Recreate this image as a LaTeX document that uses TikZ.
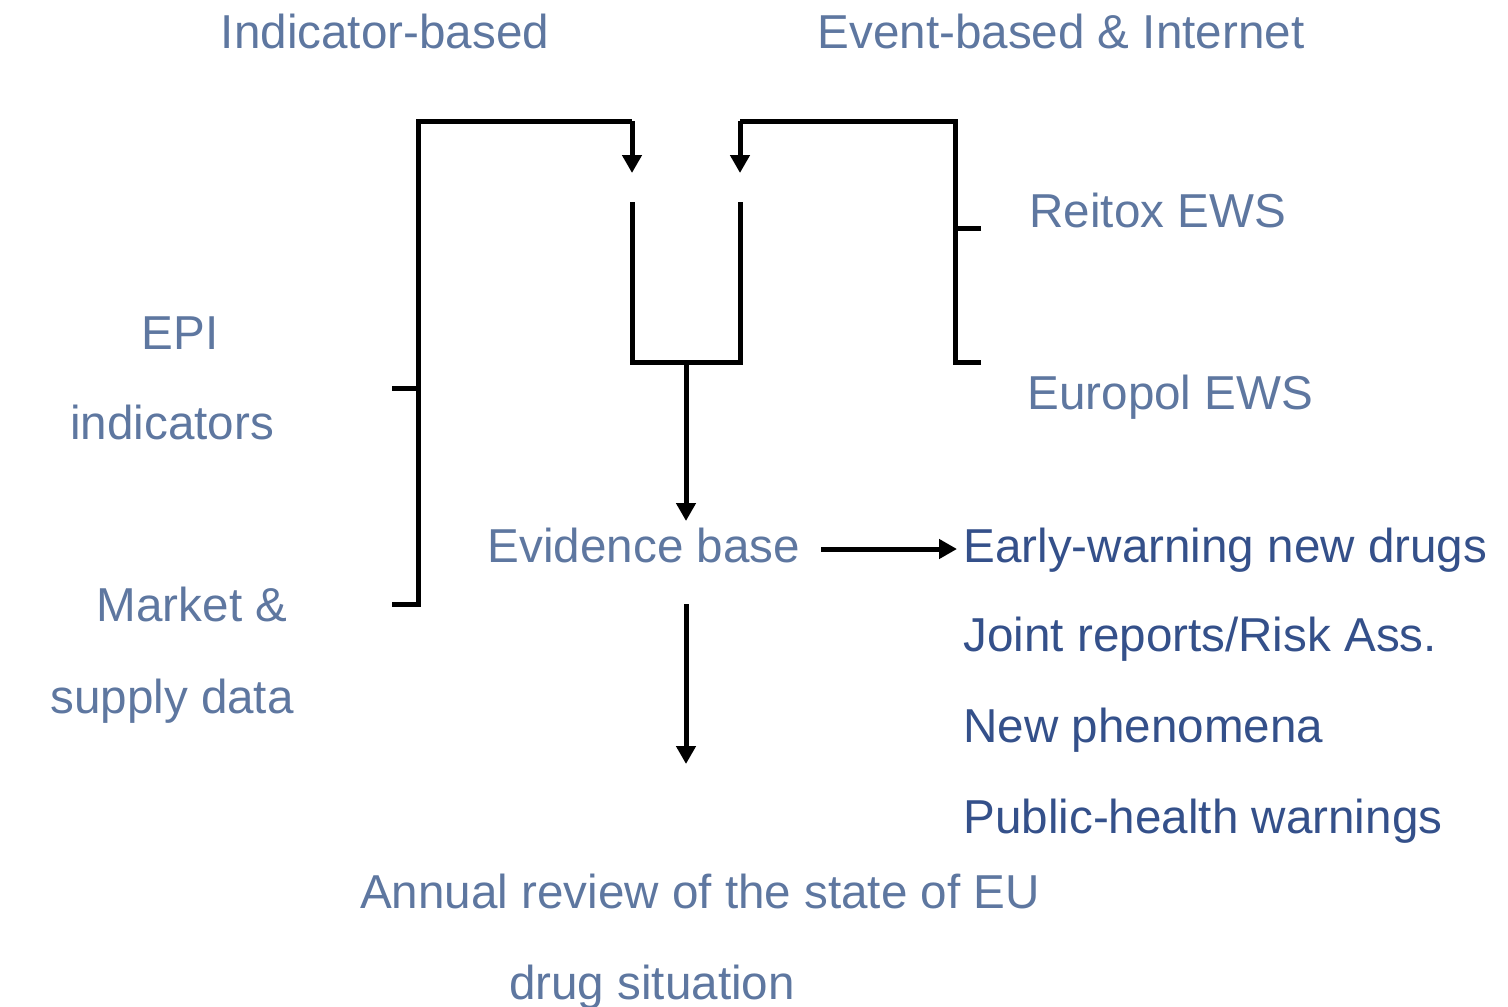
\documentclass[tikz,border=0pt]{standalone}
\usepackage{fontspec}
\setmainfont{Liberation Sans}
\usetikzlibrary{arrows.meta}
\definecolor{lblue}{HTML}{5E77A0}
\definecolor{dblue}{HTML}{34508A}

\begin{document}
\begin{tikzpicture}[x=1pt, y=-1pt, line width=5pt, font=\fontsize{47.6}{56}\selectfont]
    \tikzstyle{every node} = [inner sep=0pt, text=lblue]
    \tikzstyle{arr} = [-{Triangle[length=18pt, width=19pt]}]
    \useasboundingbox (0,0) rectangle (1508,1007);

    % headings
    \node (a) at (385, 48) [anchor=base] {Indicator-based};
    \node (b) at (1061, 48) [anchor=base] {Event-based \& Internet};

    % sources
    \node (c) at (180, 349) [anchor=base] {EPI};
    \node (d) at (172, 439) [anchor=base] {indicators};
    \node (e) at (192, 621) [anchor=base] {Market \&};
    \node (f) at (172, 713) [anchor=base] {supply data};
    \node (g) at (1027, 227) [anchor=base west] {Reitox EWS};
    \node (h) at (1025, 409) [anchor=base west] {Europol EWS};

    \node (i) at (644, 562) [anchor=base] {Evidence base};

    % outputs
    \node (j) at (961, 562) [anchor=base west, text=dblue] {Early-warning new drugs};
    \node (k) at (961, 651) [anchor=base west, text=dblue] {Joint reports/Risk Ass.};
    \node (l) at (961, 742) [anchor=base west, text=dblue] {New phenomena};
    \node (m) at (961, 833) [anchor=base west, text=dblue] {Public-health warnings};

    \node (n) at (700, 908) [anchor=base] {Annual review of the state of EU};
    \node (o) at (652, 999) [anchor=base] {drug situation};

    % bracket points
    \coordinate (lt) at (418, 121);
    \coordinate (lb) at (418, 604);
    \coordinate (lm) at (392, 388);
    \coordinate (lbt) at (392, 604);
    \coordinate (lin) at (632, 121);
    \coordinate (lend) at (632, 173);
    \coordinate (rt) at (955, 121);
    \coordinate (rb) at (981, 362);
    \coordinate (rm) at (981, 228);
    \coordinate (rin) at (740, 121);
    \coordinate (rend) at (740, 173);
    \coordinate (ua) at (632, 202);
    \coordinate (ub) at (740, 202);
    \coordinate (uc) at (686, 362);
    \coordinate (ud) at (686, 521);
    \coordinate (ea) at (821, 549);
    \coordinate (eb) at (957, 549);
    \coordinate (da) at (686, 604);
    \coordinate (db) at (686, 764);

    % left bracket
    \draw (lbt) -- (lb) -- (lt) -- (lin);
    \draw [arr] (lin) -- (lend);
    \draw (lm) -- (lm -| lt);

    % right bracket
    \draw (rb) -- (rb -| rt) -- (rt) -- (rin);
    \draw [arr] (rin) -- (rend);
    \draw (rm) -- (rm -| rt);

    % merge
    \draw (ua) -- (ua |- uc) -- (ub |- uc) -- (ub);
    \draw [arr] (uc) -- (ud);
    \draw [arr] (ea) -- (eb);
    \draw [arr] (da) -- (db);
\end{tikzpicture}
\end{document}
